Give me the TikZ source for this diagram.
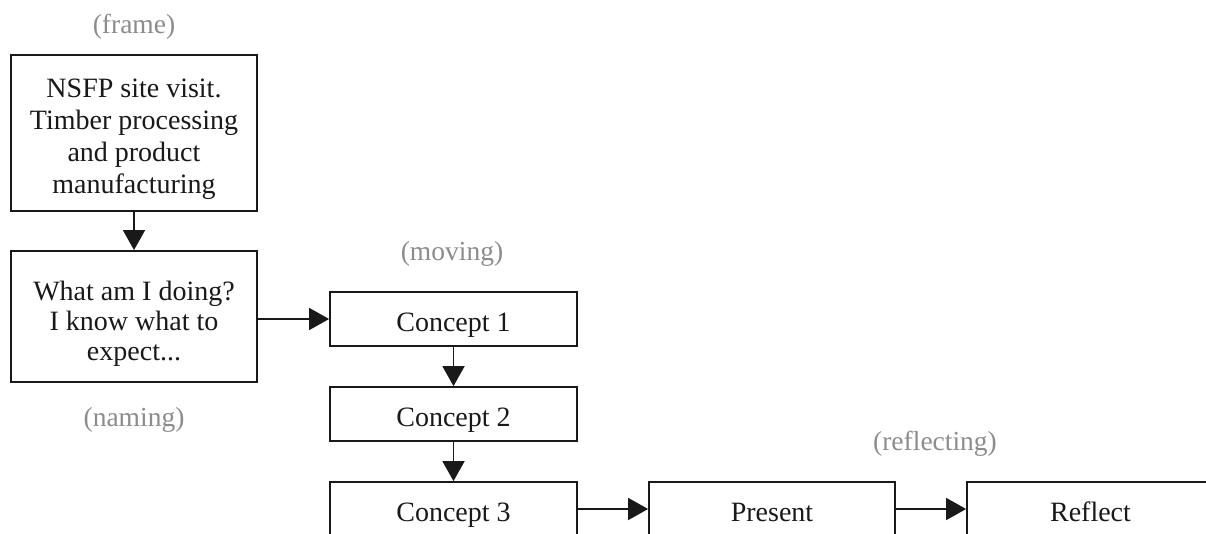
\documentclass[tikz,border=0pt]{standalone}
\usepackage{fontspec}
\setmainfont{Liberation Serif}
\usetikzlibrary{arrows.meta}
\definecolor{lbl}{RGB}{140,140,140}
\definecolor{ink}{RGB}{25,25,25}
\begin{document}
\begin{tikzpicture}[x=1pt,y=-1pt,
  box/.style={draw=ink, line width=1.8pt, fill=white, text=ink, align=center,
    inner sep=0pt, font=\fontsize{28}{32}\selectfont},
  onebox/.style={box, minimum width=247pt, minimum height=54pt,
    text height=30pt, text depth=6pt},
  stage/.style={text=lbl, inner sep=0pt, font=\fontsize{27.5}{34}\selectfont},
  conn/.style={draw=ink, line width=1.7pt, -{Triangle[length=20pt,width=22pt]}}]
\useasboundingbox (0,0) rectangle (1206,533);
\node[box, minimum width=246pt, minimum height=156pt,
  text height=126pt, text depth=6pt] (A) at (134,133)
  {NSFP site visit.\\Timber processing\\and product\\manufacturing};
\node[box, minimum width=246pt, minimum height=131pt,
  font=\fontsize{28}{30}\selectfont,
  text height=93pt, text depth=6pt] (B) at (134,316.5)
  {What am I doing?\\I know what to\\expect...};
\node[onebox] (C1) at (453.5,319) {Concept 1};
\node[onebox] (C2) at (453.5,414) {Concept 2};
\node[onebox] (C3) at (453.5,509) {Concept 3};
\node[onebox, minimum width=246pt] (P) at (772,509) {Present};
\node[onebox] (R) at (1090.5,509) {Reflect};
\node[stage] (frame) at (134,27) {(frame)};
\node[stage] (naming) at (134,420) {(naming)};
\node[stage] (moving) at (452,254) {(moving)};
\node[stage] (reflecting) at (935,444) {(reflecting)};
\draw[conn] (A.south) -- (B.north);
\draw[conn] (B.east |- C1.west) -- (C1.west);
\draw[conn] (C1.south) -- (C2.north);
\draw[conn] (C2.south) -- (C3.north);
\draw[conn] (C3.east) -- (P.west);
\draw[conn] (P.east) -- (R.west);
\end{tikzpicture}
\end{document}
